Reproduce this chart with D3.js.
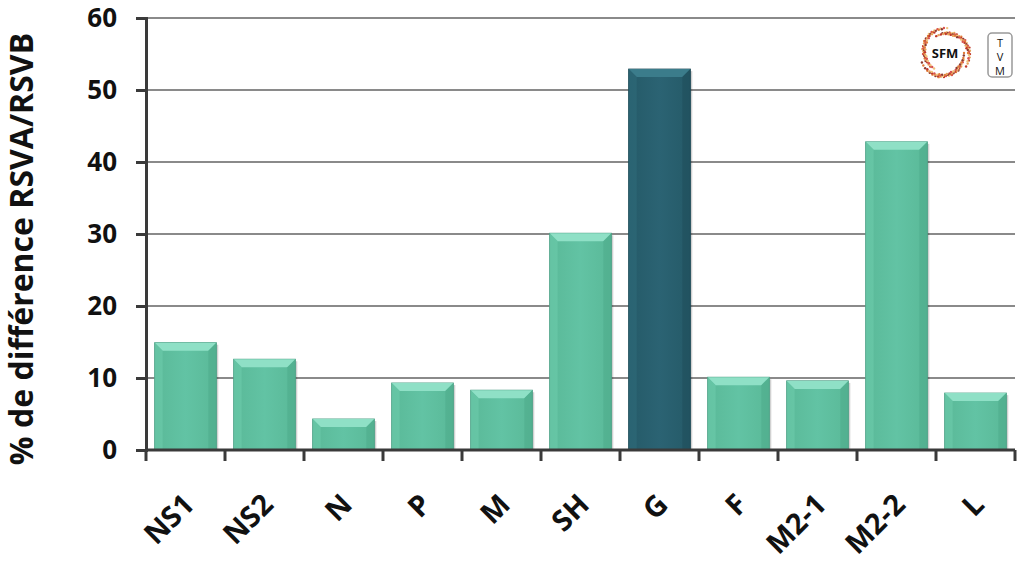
<!DOCTYPE html>
<html>
<head>
<meta charset="utf-8">
<script src="https://cdn.jsdelivr.net/npm/d3@7"></script>
<style>
  body { margin: 0; background: #fff; }
  text { font-family: "Open Sans", "Noto Sans", sans-serif; font-weight: 700; fill: #111; }
</style>
</head>
<body>
<div id="graph"></div>
<script>
const categories = ["NS1", "NS2", "N", "P", "M", "SH", "G", "F", "M2-1", "M2-2", "L"];
const values = [14.9, 12.6, 4.3, 9.3, 8.3, 30.1, 52.9, 10.1, 9.6, 42.8, 7.9];
const highlighted = ["G"];
const yTicks = [0, 10, 20, 30, 40, 50, 60];

const width = 1024, height = 563;
const margin = {top: 18, right: 9, bottom: 113, left: 146};

let svg = d3.select("#graph")
    .append("svg")
    .attr("width", width)
    .attr("height", height);

let defs = svg.append("defs");
function grad(id, c1, c2) {
    let g = defs.append("linearGradient").attr("id", id).attr("x1", 0).attr("x2", 1).attr("y1", 0).attr("y2", 0);
    g.append("stop").attr("offset", "0%").attr("stop-color", c1);
    g.append("stop").attr("offset", "50%").attr("stop-color", c2);
    g.append("stop").attr("offset", "100%").attr("stop-color", c1);
}
grad("lightBar", "#5ab998", "#62c3a4");
grad("darkBar", "#255a68", "#2b6373");

let x = d3.scaleBand()
    .domain(categories)
    .range([margin.left, width - margin.right])
    .paddingInner(0.22)
    .paddingOuter(0.11);

let y = d3.scaleLinear()
    .domain([0, 60])
    .range([height - margin.bottom, margin.top]);

// gridlines
svg.append("g")
    .selectAll("line")
    .data(yTicks.filter(d => d > 0))
    .enter().append("line")
    .attr("x1", margin.left)
    .attr("x2", width - margin.right)
    .attr("y1", d => y(d))
    .attr("y2", d => y(d))
    .attr("stroke", "#8a8a8a")
    .attr("stroke-width", 2);

// bars
let bars = svg.append("g")
    .selectAll("g")
    .data(categories.map((c, i) => ({cat: c, value: values[i]})))
    .enter().append("g");

bars.append("rect")
    .attr("x", d => x(d.cat) + 2)
    .attr("y", d => y(d.value) + 2)
    .attr("width", x.bandwidth())
    .attr("height", d => y(0) - y(d.value) - 2)
    .attr("fill", "#000")
    .attr("opacity", 0.18);

bars.append("rect")
    .attr("x", d => x(d.cat))
    .attr("y", d => y(d.value))
    .attr("width", x.bandwidth())
    .attr("height", d => y(0) - y(d.value))
    .attr("fill", d => highlighted.includes(d.cat) ? "url(#darkBar)" : "url(#lightBar)")
    .attr("stroke", d => highlighted.includes(d.cat) ? "#1d4854" : "#4c9e84")
    .attr("stroke-width", 1);

// bevel on top
const bev = 8;
bars.append("path")
    .attr("d", d => {
        let x0 = x(d.cat), x1 = x0 + x.bandwidth(), y0 = y(d.value);
        return `M${x0},${y0} L${x1},${y0} L${x1 - bev},${y0 + bev} L${x0 + bev},${y0 + bev} Z`;
    })
    .attr("fill", d => highlighted.includes(d.cat) ? "#3b7c8b" : "#8fe0c6");
bars.append("path")
    .attr("d", d => {
        let x0 = x(d.cat), y0 = y(d.value);
        return `M${x0},${y0} L${x0 + bev},${y0 + bev} L${x0 + bev},${y(0)} L${x0},${y(0)} Z`;
    })
    .attr("fill", d => highlighted.includes(d.cat) ? "#2f6b7a" : "#6ccbac")
    .attr("opacity", 0.6);
bars.append("path")
    .attr("d", d => {
        let x1 = x(d.cat) + x.bandwidth(), y0 = y(d.value);
        return `M${x1},${y0} L${x1 - bev},${y0 + bev} L${x1 - bev},${y(0)} L${x1},${y(0)} Z`;
    })
    .attr("fill", d => highlighted.includes(d.cat) ? "#1f4e5b" : "#4fab8c")
    .attr("opacity", 0.6);

// y axis
let yAxis = svg.append("g")
    .attr("transform", `translate(${margin.left},0)`)
    .call(d3.axisLeft(y).tickValues(yTicks).tickSize(10).tickPadding(19));
yAxis.select(".domain").attr("stroke", "#3a3a3a").attr("stroke-width", 3);
yAxis.selectAll(".tick line").attr("stroke", "#3a3a3a").attr("stroke-width", 3);
yAxis.selectAll(".tick text")
    .style("font-size", "26px")
    .style("font-family", "'Open Sans', sans-serif")
    .style("font-weight", 700)
    .attr("fill", "#111");

// x axis: tick marks at category boundaries
let boundaries = d3.range(categories.length + 1).map(i => margin.left + i * (width - margin.right - margin.left) / categories.length);
svg.append("line")
    .attr("x1", margin.left).attr("x2", width - margin.right)
    .attr("y1", y(0)).attr("y2", y(0))
    .attr("stroke", "#3a3a3a").attr("stroke-width", 3);
svg.append("g").selectAll("line")
    .data(boundaries)
    .enter().append("line")
    .attr("x1", d => d).attr("x2", d => d)
    .attr("y1", y(0)).attr("y2", y(0) + 11)
    .attr("stroke", "#3a3a3a").attr("stroke-width", 3);

svg.append("g").selectAll("text")
    .data(categories)
    .enter().append("text")
    .attr("transform", d => `translate(${x(d) + x.bandwidth() / 2 - 4},${y(0) + 42}) rotate(-45)`)
    .attr("text-anchor", "end")
    .attr("dy", "0.7em")
    .style("font-size", "29px")
    .text(d => d);

// y axis title
svg.append("text")
    .attr("transform", `translate(33,249) rotate(-90)`)
    .attr("text-anchor", "middle")
    .style("font-size", "32px")
    .text("% de différence RSVA/RSVB");

// logos
let logo = svg.append("g").attr("transform", "translate(945,53)");
let dots = d3.range(160).map(i => {
    let a = i * 137.5 * Math.PI / 180;
    let r = 19 + (i % 7) * 1.0;
    return [Math.cos(a) * r, Math.sin(a) * r, i];
});
const dotColors = ["#e07b39", "#c0392b", "#f1c27d", "#8e3b2f", "#e8a35c", "#d9534f"];
logo.selectAll("circle.dot")
    .data(dots)
    .enter().append("circle")
    .attr("class", "dot")
    .attr("cx", d => d[0]).attr("cy", d => d[1])
    .attr("r", 1.2)
    .attr("fill", d => dotColors[d[2] % dotColors.length]);
logo.append("circle").attr("r", 17).attr("fill", "#fff");
logo.append("text")
    .attr("text-anchor", "middle").attr("dy", "0.35em")
    .style("font-size", "13px").attr("fill", "#333")
    .text("SFM");

let tvm = svg.append("g").attr("transform", "translate(988,33)");
tvm.append("rect")
    .attr("width", 24).attr("height", 44).attr("rx", 4)
    .attr("fill", "#fff").attr("stroke", "#999").attr("stroke-width", 1.5);
["T", "V", "M"].forEach((t, i) => {
    tvm.append("text")
        .attr("x", 12).attr("y", 14 + i * 14)
        .attr("text-anchor", "middle")
        .style("font-size", "11px").style("font-weight", 400)
        .attr("fill", "#999")
        .text(t);
});
</script>
</body>
</html>
